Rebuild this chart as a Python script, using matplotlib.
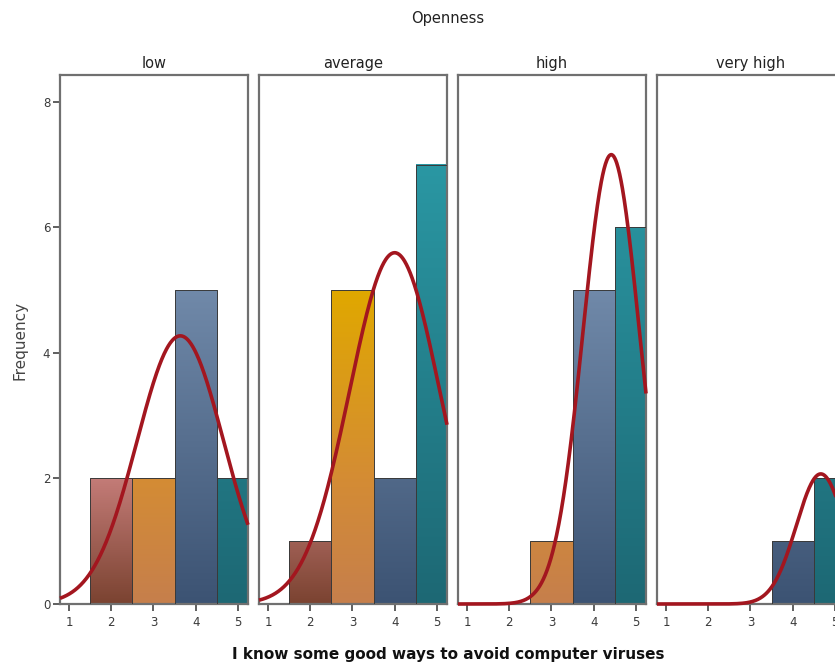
import numpy as np
import matplotlib
matplotlib.use("Agg")
import matplotlib.pyplot as plt
from matplotlib.colors import LinearSegmentedColormap
from matplotlib.patches import Rectangle

# histogram counts per Openness group, answers 1..5
groups = ["low", "average", "high", "very high"]
answers = [1, 2, 3, 4, 5]
counts_low = [0, 2, 2, 5, 2]
counts_average = [0, 1, 5, 2, 7]
counts_high = [0, 0, 1, 5, 6]
counts_very_high = [0, 0, 0, 1, 2]
all_counts = [counts_low, counts_average, counts_high, counts_very_high]

y_ticks = [0, 2, 4, 6, 8]
YTOP = 8.43
XL, XR = 0.786, 5.24

# gradient per answer value (dark at bottom, lighter up the axis)
grad_stops = {
    1: [(0, "#7b4331"), (1, "#c47c78")],
    2: [(0, "#7b4331"), (2 / YTOP, "#c47c78"), (1, "#e2a4a2")],
    3: [(0, "#c67f4c"), (2 / YTOP, "#d48c34"), (5 / YTOP, "#e0a800"), (1, "#e8b800")],
    4: [(0, "#3c5373"), (5 / YTOP, "#7089a9"), (1, "#8098b8")],
    5: [(0, "#1d6874"), (7 / YTOP, "#2a97a3"), (1, "#2c9ca8")],
}
cmaps = {k: LinearSegmentedColormap.from_list("c%d" % k, v) for k, v in grad_stops.items()}

fig = plt.figure(figsize=(8.35, 6.68), dpi=100)

W, H = 835, 668
frame_col = "#707070"
txt_col = "#3a3a3a"

for i, (name, counts) in enumerate(zip(groups, all_counts)):
    left = 60 + 199 * i
    ax = fig.add_axes([left / W, 1 - 604 / H, 188 / W, (604 - 75) / H])

    for a, c in zip(answers, counts):
        if c == 0:
            continue
        ys = np.linspace(0, c, 200).reshape(-1, 1)
        ax.imshow(ys, extent=[a - 0.5, a + 0.5, 0, c], origin="lower",
                  aspect="auto", cmap=cmaps[a], vmin=0, vmax=YTOP,
                  interpolation="bilinear", zorder=2)
        ax.add_patch(Rectangle((a - 0.5, 0), 1, c, fill=False,
                               edgecolor="#3a3a3a", linewidth=0.7, zorder=3))

    # fitted normal curve from the counts
    vals = np.repeat(answers, counts)
    n = len(vals)
    mu = vals.mean()
    sd = vals.std(ddof=1)
    xs = np.linspace(XL, XR, 400)
    dens = n / (sd * np.sqrt(2 * np.pi)) * np.exp(-0.5 * ((xs - mu) / sd) ** 2)
    ax.plot(xs, dens, color="#a3161f", linewidth=2.6, zorder=4,
            clip_on=False, solid_capstyle="butt")

    ax.set_xlim(XL, XR)
    ax.set_ylim(0, YTOP)
    for s in ax.spines.values():
        s.set_color(frame_col)
        s.set_linewidth(1.6)
    ax.set_xticks(answers)
    ax.tick_params(axis="x", direction="out", length=5, width=1.2,
                   color="#444444", labelsize=8.5, labelcolor=txt_col, pad=3.5)
    if i == 0:
        ax.set_yticks(y_ticks)
        ax.tick_params(axis="y", direction="out", length=5, width=1.2,
                       color="#444444", labelsize=8.5, labelcolor=txt_col, pad=2)
    else:
        ax.set_yticks([])
    ax.set_title(name, fontsize=10.5, color="#222222", pad=5)

fig.text(448 / W, 1 - 19 / H, "Openness", ha="center", va="center",
         fontsize=10.5, color="#222222")
fig.text(20 / W, 1 - 340 / H, "Frequency", ha="center", va="center",
         rotation=90, fontsize=11, color="#444444")
fig.text(448 / W, 1 - 655 / H, "I know some good ways to avoid computer viruses",
         ha="center", va="center", fontsize=11, fontweight="bold", color="#111111")

fig.savefig("out.png", dpi=100)
